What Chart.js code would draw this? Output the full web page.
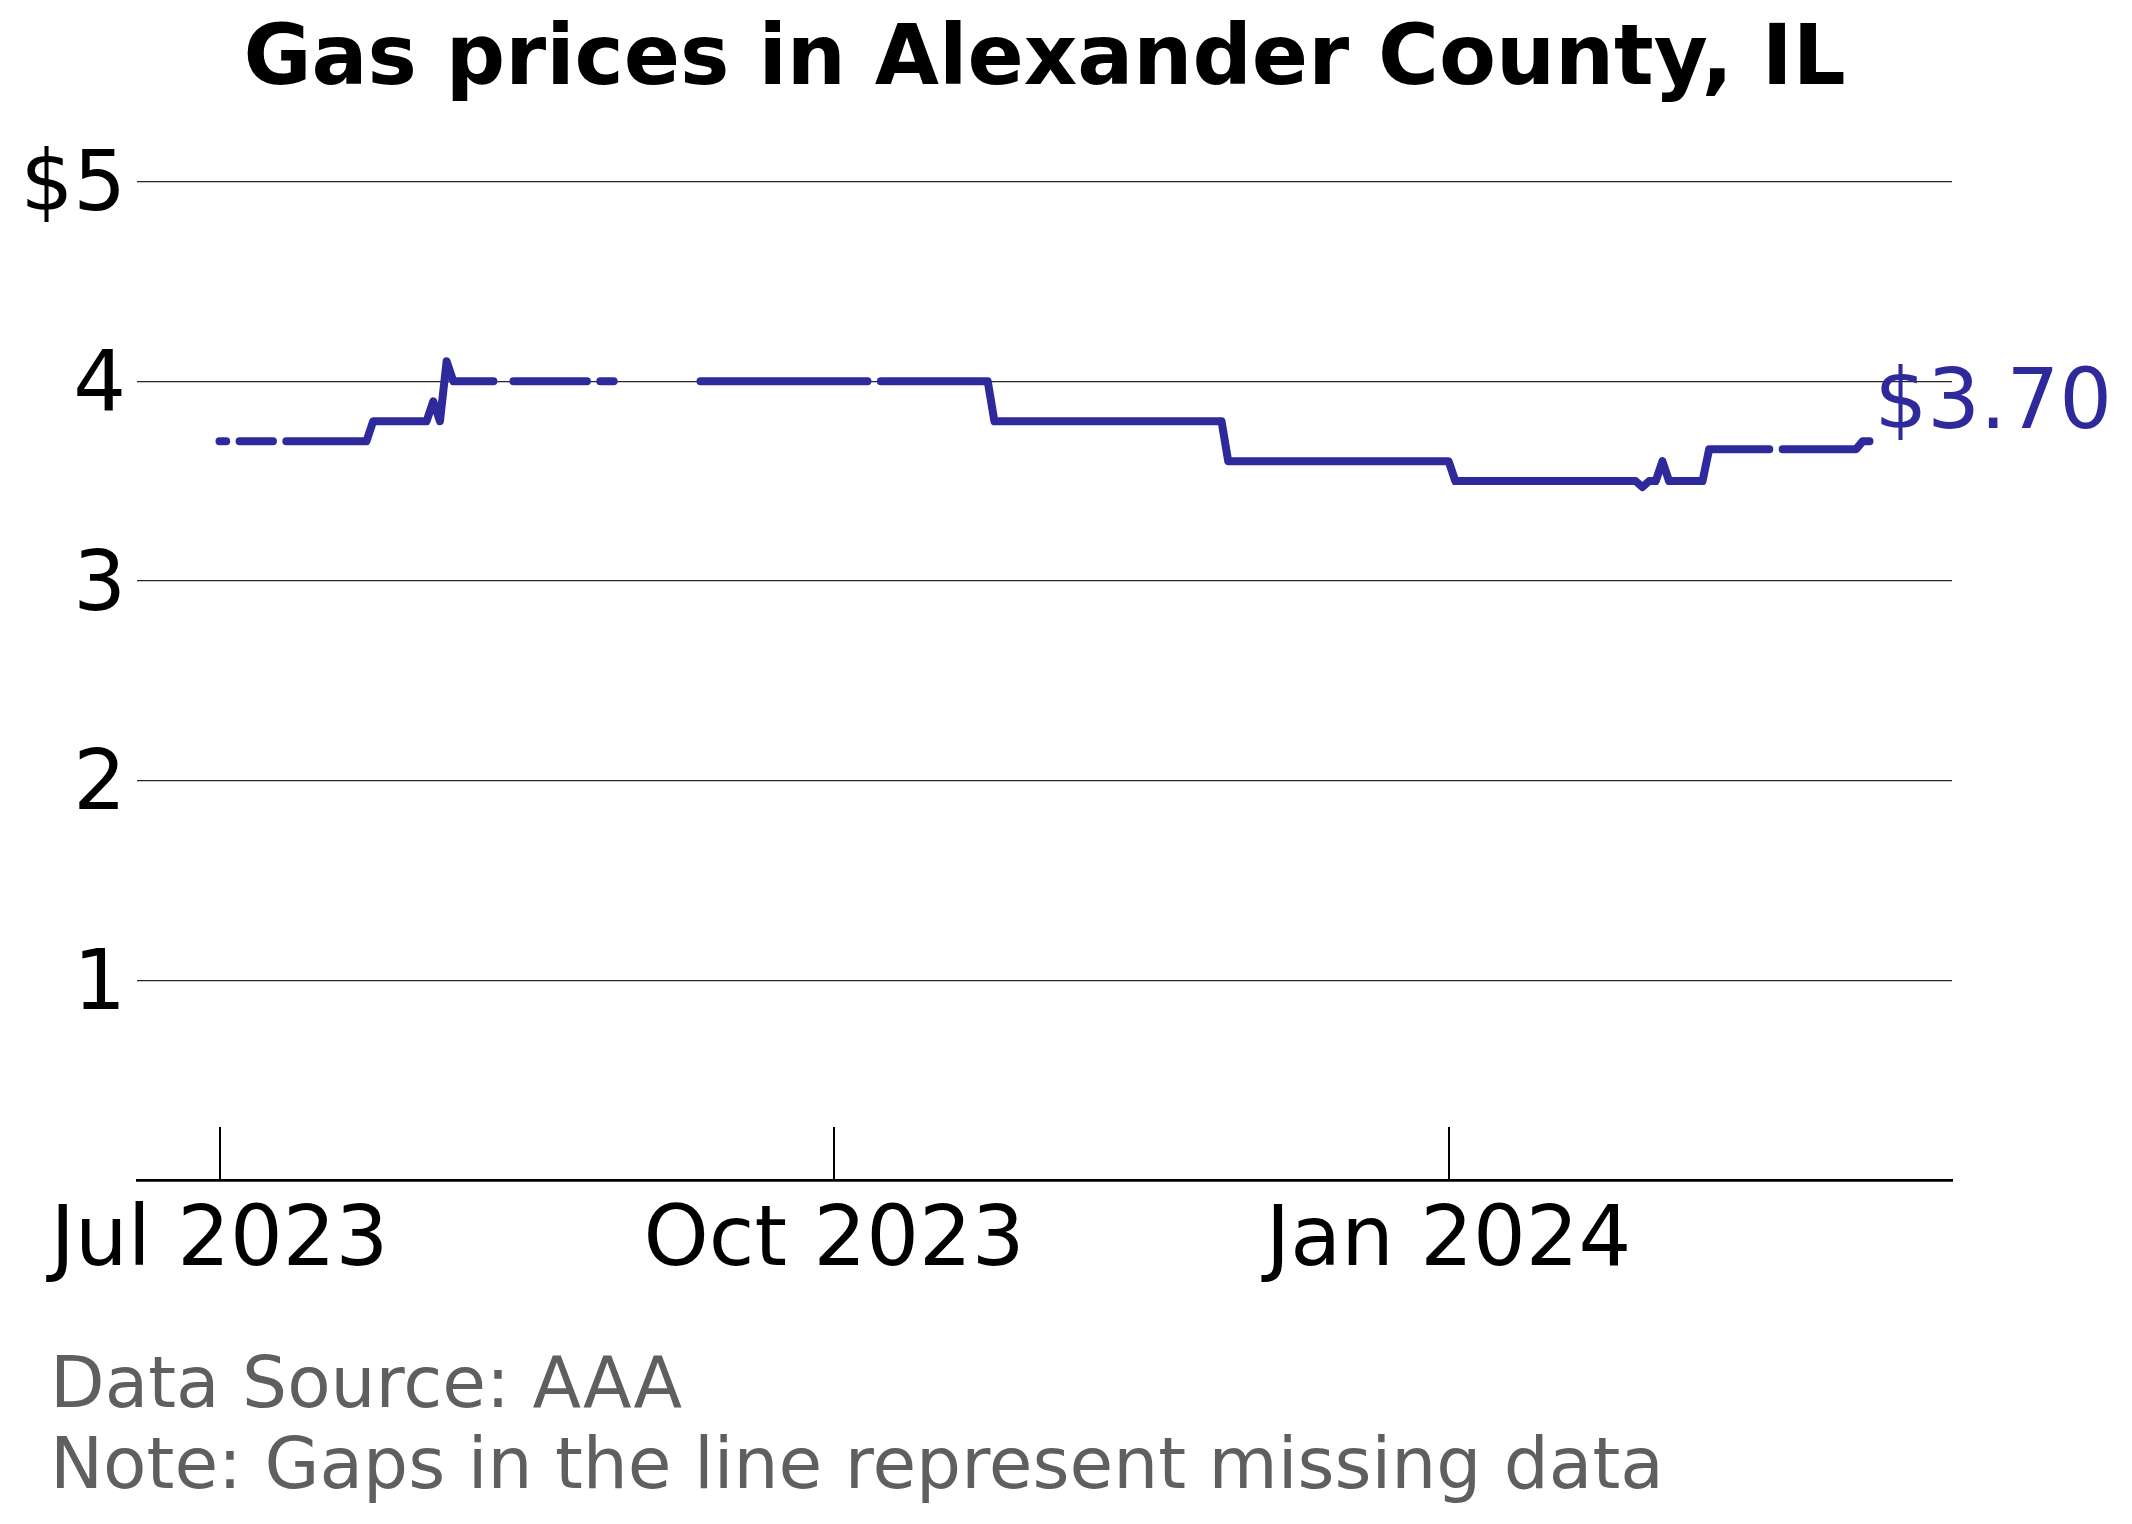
<!DOCTYPE html>
<html>
<head>
<meta charset="utf-8">
<title>Gas prices in Alexander County, IL</title>
<script src="https://cdn.jsdelivr.net/npm/chart.js@4.4.1/dist/chart.umd.min.js"></script>
<style>
  html, body { margin: 0; padding: 0; background: #fff; }
  #wrap { width: 2132px; height: 1524px; }
</style>
</head>
<body>
<div id="wrap"><canvas id="chart" width="2132" height="1524"></canvas></div>
<script>
// day 0 = 2023-07-01, one value per day, null = missing data
const firstDay = 0;

const julPrices = [
  3.70, 3.70, null, 3.70, 3.70, 3.70, 3.70, 3.70, 3.70, null,
  3.70, 3.70, 3.70, 3.70, 3.70, 3.70, 3.70, 3.70, 3.70, 3.70,
  3.70, 3.70, 3.70, 3.80, 3.80, 3.80, 3.80, 3.80, 3.80, 3.80,
  3.80
];
const augPrices = [
  3.80, 3.90, 3.80, 4.10, 4.00, 4.00, 4.00, 4.00, 4.00, 4.00,
  4.00, null, null, 4.00, 4.00, 4.00, 4.00, 4.00, 4.00, 4.00,
  4.00, 4.00, 4.00, 4.00, 4.00, null, 4.00, 4.00, 4.00, null,
  null
];
const sepPrices = [
  null, null, null, null, null, null, null, null, null, null,
  4.00, 4.00, 4.00, 4.00, 4.00, 4.00, 4.00, 4.00, 4.00, 4.00,
  4.00, 4.00, 4.00, 4.00, 4.00, 4.00, 4.00, 4.00, 4.00, 4.00
];
const octPrices = [
  4.00, 4.00, 4.00, 4.00, 4.00, 4.00, null, 4.00, 4.00, 4.00,
  4.00, 4.00, 4.00, 4.00, 4.00, 4.00, 4.00, 4.00, 4.00, 4.00,
  4.00, 4.00, 4.00, 4.00, 3.80, 3.80, 3.80, 3.80, 3.80, 3.80,
  3.80
];
const novPrices = [
  3.80, 3.80, 3.80, 3.80, 3.80, 3.80, 3.80, 3.80, 3.80, 3.80,
  3.80, 3.80, 3.80, 3.80, 3.80, 3.80, 3.80, 3.80, 3.80, 3.80,
  3.80, 3.80, 3.80, 3.80, 3.80, 3.80, 3.80, 3.80, 3.60, 3.60
];
const decPrices = [
  3.60, 3.60, 3.60, 3.60, 3.60, 3.60, 3.60, 3.60, 3.60, 3.60,
  3.60, 3.60, 3.60, 3.60, 3.60, 3.60, 3.60, 3.60, 3.60, 3.60,
  3.60, 3.60, 3.60, 3.60, 3.60, 3.60, 3.60, 3.60, 3.60, 3.60,
  3.60
];
const janPrices = [
  3.60, 3.50, 3.50, 3.50, 3.50, 3.50, 3.50, 3.50, 3.50, 3.50,
  3.50, 3.50, 3.50, 3.50, 3.50, 3.50, 3.50, 3.50, 3.50, 3.50,
  3.50, 3.50, 3.50, 3.50, 3.50, 3.50, 3.50, 3.50, 3.50, 3.47,
  3.50
];
const febPrices = [
  3.50, 3.60, 3.50, 3.50, 3.50, 3.50, 3.50, 3.50, 3.66, 3.66,
  3.66, 3.66, 3.66, 3.66, 3.66, 3.66, 3.66, 3.66, null, 3.66,
  3.66, 3.66, 3.66, 3.66, 3.66, 3.66, 3.66, 3.66, 3.66
];
const marPrices = [3.66, 3.66, 3.70, 3.70];

const prices = [].concat(julPrices, augPrices, sepPrices, octPrices,
  novPrices, decPrices, janPrices, febPrices, marPrices);

const xTickDays = [0, 92, 184];
const xTickLabels = ['Jul 2023', 'Oct 2023', 'Jan 2024'];
const yTickValues = [1, 2, 3, 4, 5];
const yTickLabels = ['1', '2', '3', '4', '$5'];

const titleText = 'Gas prices in Alexander County, IL';
const noteLines = ['Data Source: AAA', 'Note: Gaps in the line represent missing data'];

const lineColor = '#2e2a9c';

// 5% margin either side of the data, like the original
const lastDay = firstDay + prices.length - 1;
const margin = (lastDay - firstDay) * 0.05;

Chart.defaults.font.family = '"DejaVu Sans", sans-serif';

// price label at the end of the line
const endLabel = {
  id: 'endLabel',
  afterDatasetsDraw(chart) {
    const meta = chart.getDatasetMeta(0);
    const pt = meta.data[meta.data.length - 1];
    const ctx = chart.ctx;
    ctx.save();
    ctx.font = '83px "DejaVu Sans"';
    ctx.fillStyle = lineColor;
    ctx.textAlign = 'left';
    ctx.textBaseline = 'alphabetic';
    ctx.fillText('$' + prices[prices.length - 1].toFixed(2), pt.x + 5, pt.y - 13);
    ctx.restore();
  }
};

// tick marks point up into the plot, not down
const innerTicks = {
  id: 'innerTicks',
  afterDraw(chart) {
    const xs = chart.scales.x;
    const ctx = chart.ctx;
    ctx.save();
    ctx.strokeStyle = '#000';
    ctx.lineWidth = 2;
    xTickDays.forEach(d => {
      const px = Math.round(xs.getPixelForValue(d));
      ctx.beginPath();
      ctx.moveTo(px, xs.top);
      ctx.lineTo(px, xs.top - 53);
      ctx.stroke();
    });
    ctx.restore();
  }
};

// source + note under the chart
const footnote = {
  id: 'footnote',
  afterDraw(chart) {
    const ctx = chart.ctx;
    ctx.save();
    ctx.font = '71px "DejaVu Sans"';
    ctx.fillStyle = '#5f5f5f';
    ctx.textAlign = 'left';
    ctx.textBaseline = 'alphabetic';
    ctx.fillText(noteLines[0], 50, 1407);
    ctx.fillText(noteLines[1], 50, 1488);
    ctx.restore();
  }
};

new Chart(document.getElementById('chart'), {
  type: 'line',
  data: {
    datasets: [{
      data: prices.map((p, i) => ({ x: firstDay + i, y: p })),
      borderColor: lineColor,
      borderWidth: 8,
      borderCapStyle: 'round',
      borderJoinStyle: 'round',
      pointRadius: 0,
      tension: 0,
      spanGaps: false,
      fill: false
    }]
  },
  options: {
    responsive: false,
    animation: false,
    devicePixelRatio: 1,
    layout: { padding: { left: 0, right: 180, top: 0, bottom: 194 } },
    plugins: {
      legend: { display: false },
      tooltip: { enabled: false },
      title: {
        display: true,
        text: titleText,
        fullSize: false,
        color: '#000',
        font: { size: 83, weight: 'bold', lineHeight: 1.2 },
        padding: { top: 13, bottom: 69 }
      }
    },
    scales: {
      x: {
        type: 'linear',
        min: firstDay - margin,
        max: lastDay + margin,
        afterBuildTicks: (scale) => { scale.ticks = xTickDays.map(v => ({ value: v })); },
        afterFit: (scale) => { scale.height = 150; },
        grid: { display: true, drawOnChartArea: false, drawTicks: false },
        border: { display: true, color: '#000', width: 2.7 },
        ticks: {
          autoSkip: false,
          maxRotation: 0,
          padding: 14,
          color: '#000',
          font: { size: 83 },
          callback: (v) => xTickLabels[xTickDays.indexOf(v)]
        }
      },
      y: {
        min: 0,
        max: 5,
        afterBuildTicks: (scale) => { scale.ticks = yTickValues.map(v => ({ value: v })); },
        afterFit: (scale) => { scale.width = 137; },
        grid: { color: 'rgba(0,0,0,0.85)', lineWidth: 1.3, drawTicks: false },
        border: { display: false },
        ticks: {
          padding: 11,
          labelOffset: 7,
          color: '#000',
          font: { size: 83 },
          callback: (v) => yTickLabels[yTickValues.indexOf(v)]
        }
      }
    }
  },
  plugins: [endLabel, innerTicks, footnote]
});
</script>
</body>
</html>
